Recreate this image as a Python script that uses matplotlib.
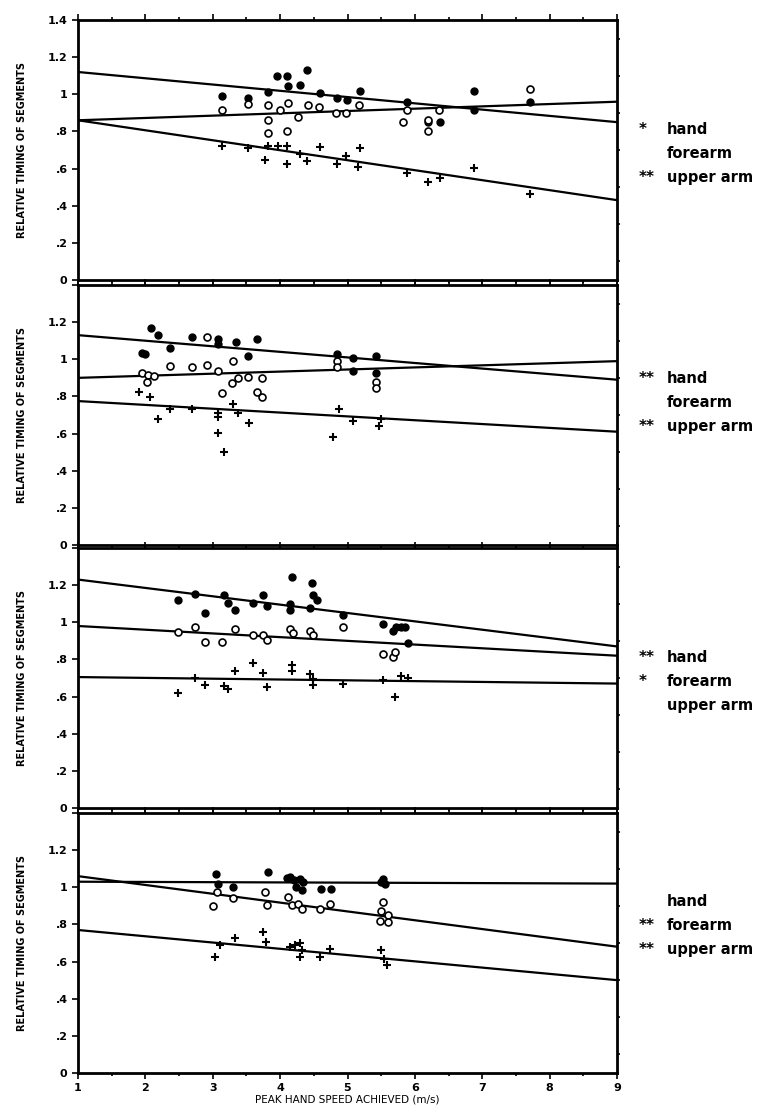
import numpy as np
import matplotlib.pyplot as plt
from matplotlib.ticker import MultipleLocator

# ---- data (x = peak hand speed, y = relative timing)
p1_hand_x = [3.13, 3.53, 3.82, 3.95, 4.10, 4.11, 4.29, 4.40, 4.59, 4.84, 4.99, 5.19, 5.89, 6.19, 6.37, 6.88, 6.88, 7.71]
p1_hand_y = [0.99, 0.98, 1.01, 1.10, 1.10, 1.045, 1.05, 1.13, 1.005, 0.98, 0.97, 1.02, 0.96, 0.85, 0.85, 1.02, 0.915, 0.96]
p1_fore_x = [3.13, 3.53, 3.82, 3.82, 4.00, 4.11, 4.27, 4.42, 4.58, 4.83, 4.98, 5.17, 5.82, 5.89, 6.19, 6.36, 7.71, 3.82, 4.10, 6.19]
p1_fore_y = [0.915, 0.95, 0.94, 0.86, 0.915, 0.955, 0.875, 0.94, 0.93, 0.90, 0.90, 0.94, 0.85, 0.915, 0.86, 0.915, 1.03, 0.79, 0.80, 0.80]
p1_upper_x = [3.13, 3.53, 3.82, 3.97, 4.10, 3.77, 4.10, 4.29, 4.40, 4.59, 4.84, 4.98, 5.16, 5.19, 5.89, 6.20, 6.37, 6.88, 7.71]
p1_upper_y = [0.72, 0.71, 0.72, 0.72, 0.72, 0.645, 0.625, 0.68, 0.64, 0.715, 0.625, 0.67, 0.61, 0.71, 0.575, 0.525, 0.55, 0.605, 0.465]

p2_hand_x = [2.09, 2.19, 2.69, 3.08, 3.08, 3.35, 3.65, 1.95, 2.00, 2.37, 3.53, 4.84, 5.08, 5.43, 5.08, 5.43]
p2_hand_y = [1.167, 1.13, 1.12, 1.11, 1.08, 1.095, 1.11, 1.035, 1.03, 1.06, 1.02, 1.03, 1.005, 1.02, 0.935, 0.925]
p2_fore_x = [2.91, 2.37, 2.69, 2.91, 3.08, 3.30, 1.95, 2.04, 2.02, 2.13, 3.28, 3.38, 3.53, 3.73, 4.84, 4.84, 3.13, 3.65, 3.73, 5.43, 5.43]
p2_fore_y = [1.12, 0.965, 0.96, 0.97, 0.935, 0.99, 0.925, 0.915, 0.88, 0.91, 0.87, 0.90, 0.905, 0.90, 0.99, 0.96, 0.82, 0.825, 0.795, 0.88, 0.845]
p2_upper_x = [1.90, 2.07, 2.19, 2.37, 2.69, 3.08, 3.08, 3.08, 3.16, 3.30, 3.38, 3.54, 4.88, 4.78, 5.08, 5.47, 5.50]
p2_upper_y = [0.825, 0.795, 0.68, 0.735, 0.735, 0.71, 0.69, 0.605, 0.50, 0.76, 0.71, 0.655, 0.73, 0.58, 0.67, 0.64, 0.68]

p3_hand_x = [2.49, 2.74, 2.88, 3.16, 3.22, 3.33, 3.60, 3.74, 3.81, 4.17, 4.15, 4.15, 4.47, 4.49, 4.54, 4.44, 4.93, 5.53, 5.68, 5.72, 5.79, 5.86, 5.90]
p3_hand_y = [1.12, 1.155, 1.05, 1.145, 1.105, 1.065, 1.105, 1.145, 1.09, 1.245, 1.10, 1.065, 1.21, 1.145, 1.12, 1.075, 1.04, 0.99, 0.955, 0.975, 0.975, 0.975, 0.89]
p3_fore_x = [2.49, 2.74, 2.88, 3.13, 3.33, 3.60, 3.74, 3.81, 4.15, 4.19, 4.45, 4.49, 4.93, 5.53, 5.68, 5.70]
p3_fore_y = [0.95, 0.975, 0.895, 0.895, 0.965, 0.93, 0.93, 0.905, 0.965, 0.945, 0.955, 0.93, 0.975, 0.83, 0.815, 0.84]
p3_upper_x = [2.49, 2.74, 2.88, 3.16, 3.22, 3.33, 3.60, 3.75, 3.80, 4.18, 4.18, 4.44, 4.49, 4.49, 4.94, 5.53, 5.80, 5.90, 5.70]
p3_upper_y = [0.62, 0.70, 0.66, 0.655, 0.64, 0.74, 0.78, 0.725, 0.65, 0.77, 0.74, 0.72, 0.695, 0.66, 0.67, 0.69, 0.71, 0.70, 0.60]

p4_hand_x = [3.05, 3.08, 3.30, 3.82, 4.10, 4.15, 4.20, 4.29, 4.34, 4.24, 4.32, 4.60, 4.75, 5.50, 5.53, 5.55]
p4_hand_y = [1.07, 1.02, 1.00, 1.08, 1.05, 1.055, 1.04, 1.045, 1.03, 1.00, 0.985, 0.99, 0.99, 1.03, 1.045, 1.02]
p4_fore_x = [3.06, 3.01, 3.30, 3.77, 3.80, 4.12, 4.17, 4.27, 4.32, 4.59, 4.74, 5.53, 5.50, 5.60, 5.48, 5.60]
p4_fore_y = [0.975, 0.90, 0.94, 0.975, 0.905, 0.95, 0.905, 0.91, 0.885, 0.885, 0.91, 0.92, 0.87, 0.85, 0.82, 0.815]
p4_upper_x = [3.03, 3.11, 3.33, 3.75, 3.79, 4.15, 4.22, 4.29, 4.33, 4.30, 4.59, 4.74, 5.50, 5.54, 5.58]
p4_upper_y = [0.625, 0.69, 0.725, 0.76, 0.705, 0.68, 0.69, 0.70, 0.66, 0.625, 0.625, 0.67, 0.66, 0.615, 0.58]

# regression lines: value at x=1 and at x=9 (hand, forearm, upper arm)
p1_fits = [(1.12, 0.85), (0.86, 0.96), (0.86, 0.43)]
p2_fits = [(1.13, 0.89), (0.90, 0.99), (0.775, 0.61)]
p3_fits = [(1.23, 0.87), (0.98, 0.82), (0.705, 0.67)]
p4_fits = [(1.03, 1.02), (1.06, 0.68), (0.77, 0.50)]

# significance marks in the side legends (hand, forearm, upper arm)
p1_stars = ["*", "", "**"]
p2_stars = ["**", "", "**"]
p3_stars = ["**", "*", ""]
p4_stars = ["", "**", "**"]
seg_names = ["hand", "forearm", "upper arm"]

fit_x = [1, 9]
yticks = [0, 0.2, 0.4, 0.6, 0.8, 1.0, 1.2, 1.4]
ytick_labels = ["0", ".2", ".4", ".6", ".8", "1", "1.2", "1.4"]
xticks = [1, 2, 3, 4, 5, 6, 7, 8, 9]

panels = [
    (p1_hand_x, p1_hand_y, p1_fore_x, p1_fore_y, p1_upper_x, p1_upper_y, p1_fits, p1_stars),
    (p2_hand_x, p2_hand_y, p2_fore_x, p2_fore_y, p2_upper_x, p2_upper_y, p2_fits, p2_stars),
    (p3_hand_x, p3_hand_y, p3_fore_x, p3_fore_y, p3_upper_x, p3_upper_y, p3_fits, p3_stars),
    (p4_hand_x, p4_hand_y, p4_fore_x, p4_fore_y, p4_upper_x, p4_upper_y, p4_fits, p4_stars),
]

W, H = 779, 1113
fig = plt.figure(figsize=(W / 100, H / 100), dpi=100)

left_px, right_px = 78, 617
bottoms_px = [280, 545, 808, 1073]
height_px = 260
legend_top = [0.58, 0.64, 0.58, 0.66]   # axes fraction of first legend row
narrow = ["Liberation Sans Narrow", "DejaVu Sans"]

for k, (hx, hy, fx, fy, ux, uy, fits, stars) in enumerate(panels):
    rect = [left_px / W, 1 - bottoms_px[k] / H, (right_px - left_px) / W, height_px / H]
    ax = fig.add_axes(rect)
    ax.set_xlim(1, 9)
    ax.set_ylim(0, 1.4)

    for a, b in fits:
        ax.plot(fit_x, [a, b], color="black", lw=1.6)
    ax.plot(hx, hy, "o", ms=5, mfc="black", mec="black")
    ax.plot(fx, fy, "o", ms=5, mfc="white", mec="black", mew=1.2)
    ax.plot(ux, uy, "+", ms=6, mec="black", mew=1.5)

    for s in ax.spines.values():
        s.set_linewidth(2)
    ax.set_yticks(yticks)
    labs = list(ytick_labels)
    if k > 0:
        labs[-1] = ""
    ax.set_yticklabels(labs, fontsize=8, fontweight="bold")
    ax.yaxis.set_minor_locator(MultipleLocator(0.1))
    ax.set_xticks(xticks)
    ax.xaxis.set_minor_locator(MultipleLocator(0.5))
    ax.tick_params(which="both", direction="out", top=True, right=True, width=1.2)
    ax.tick_params(which="major", length=4)
    ax.tick_params(which="minor", length=2.5)
    ax.tick_params(axis="y", which="minor", left=False)
    ax.tick_params(axis="y", which="major", right=False)
    if k < 3:
        ax.set_xticklabels([])
    else:
        ax.set_xticklabels([str(v) for v in xticks], fontsize=8, fontweight="bold")
        ax.set_xlabel("PEAK HAND SPEED ACHIEVED (m/s)", fontsize=7.5, family=narrow, labelpad=1)
    ax.set_ylabel("RELATIVE TIMING OF SEGMENTS", fontsize=7, family=narrow, fontweight="bold", labelpad=15)

    # side legend
    for j in range(3):
        yy = legend_top[k] - j * 0.093
        ax.text(1.04, yy, stars[j], transform=ax.transAxes, fontsize=11, fontweight="bold", va="center")
        ax.text(1.092, yy, seg_names[j], transform=ax.transAxes, fontsize=10.5, fontweight="bold", va="center")

fig.savefig("out.png", dpi=100)
